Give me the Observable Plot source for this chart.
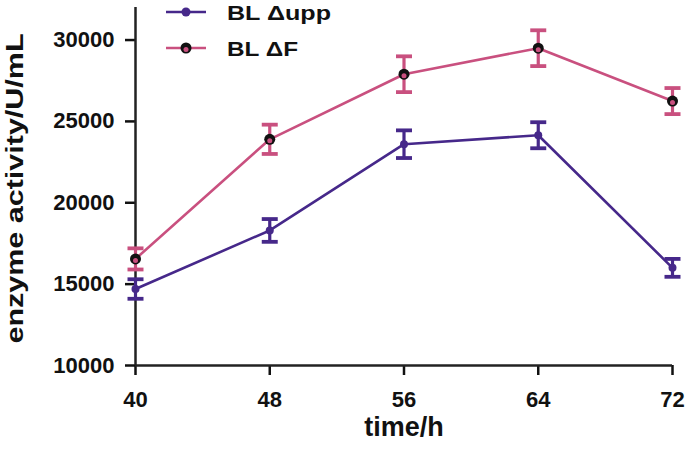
<!DOCTYPE html>
<html><head><meta charset="utf-8">
<script src="https://cdn.jsdelivr.net/npm/d3@7"></script>
<script src="https://cdn.jsdelivr.net/npm/@observablehq/plot@0.6"></script>
<style>
html,body{margin:0;padding:0;background:#fff;}
#wrap{position:relative;width:685px;height:449px;font-family:"Liberation Sans",Arial,sans-serif;}
#legend{position:absolute;left:0;top:0;}
</style></head>
<body><div id="wrap"><svg id="legend" width="400" height="70"></svg></div>
<script>
const times = [40, 48, 56, 64, 72];
const seriesNames = ["BL \u0394upp", "BL \u0394F"];
const seriesColors = ["#46288a", "#c9507f"];
const uppMean = [14700, 18300, 23600, 24150, 16000];
const uppErr  = [600, 700, 850, 800, 550];
const fMean   = [16550, 23900, 27900, 29500, 26250];
const fErr    = [650, 900, 1100, 1100, 800];
const yTicks = [10000, 15000, 20000, 25000, 30000];
const xDomain = [40, 72];
const yDomain = [10000, 32000];
const xTitle = "time/h";
const yTitle = "enzyme activity/U/mL";

const rows = [];
times.forEach((t, i) => {
  rows.push({t, v: uppMean[i], e: uppErr[i], s: seriesNames[0]});
  rows.push({t, v: fMean[i], e: fErr[i], s: seriesNames[1]});
});
const upp = rows.filter(d => d.s === seriesNames[0]);
const ff = rows.filter(d => d.s === seriesNames[1]);

const capSymbol = {draw(ctx, size) { ctx.moveTo(-8, 0); ctx.lineTo(8, 0); }};

function series(data, color) {
  return [
    Plot.line(data, {x: "t", y: "v", stroke: color, strokeWidth: 2.6}),
    Plot.ruleX(data, {x: "t", y1: d => d.v - d.e, y2: d => d.v + d.e, stroke: color, strokeWidth: 3.2}),
    Plot.dot(data, {x: "t", y: d => d.v - d.e, symbol: capSymbol, stroke: color, strokeWidth: 3.8, r: 5}),
    Plot.dot(data, {x: "t", y: d => d.v + d.e, symbol: capSymbol, stroke: color, strokeWidth: 3.8, r: 5})
  ];
}

const chart = Plot.plot({
  width: 685, height: 449,
  marginLeft: 135, marginRight: 13, marginTop: 7, marginBottom: 84,
  style: {fontFamily: "'Liberation Sans', Arial, sans-serif", fontWeight: "bold", color: "#111", background: "#fff"},
  x: {domain: xDomain},
  y: {domain: yDomain},
  marks: [
    Plot.axisX({ticks: times, tickSize: 10, tickPadding: 16, strokeWidth: 2.5, fontSize: 22, label: null, tickFormat: d => String(d)}),
    Plot.axisY({ticks: yTicks, tickSize: 10, tickPadding: 11, strokeWidth: 2.5, fontSize: 22, label: null, tickFormat: d => String(d)}),
    Plot.text([xTitle], {frameAnchor: "bottom", dy: 70, fontSize: 27, fontWeight: "bold", fill: "#111"}),
    Plot.text([yTitle], {frameAnchor: "left", textAnchor: "middle", dx: -120, dy: 2, rotate: -90, fontSize: 23, fontWeight: "bold", fill: "#111"}),
    Plot.ruleX([xDomain[0]], {stroke: "#222", strokeWidth: 2.5}),
    Plot.ruleY([yDomain[0]], {stroke: "#222", strokeWidth: 2.5}),
    ...series(upp, seriesColors[0]),
    ...series(ff, seriesColors[1]),
    Plot.dot(upp, {x: "t", y: "v", r: 4, fill: seriesColors[0]}),
    Plot.dot(ff, {x: "t", y: "v", r: 5.5, fill: "#111"}),
    Plot.dot(ff, {x: "t", y: "v", r: 2.5, dy: 1.5, fill: seriesColors[1]})
  ]
});
const wrap = document.getElementById("wrap");
wrap.insertBefore(chart, wrap.firstChild);
chart.querySelectorAll("text").forEach(t => {
  if (t.textContent === yTitle) { t.setAttribute("textLength", 310); t.setAttribute("lengthAdjust", "spacingAndGlyphs"); }
});

const legend = d3.select("#legend");
const legendY = [12, 48];
const legendTextW = [104, 71];
seriesNames.forEach((name, i) => {
  const g = legend.append("g").attr("transform", `translate(166,${legendY[i]})`);
  g.append("line").attr("x1", 0).attr("x2", 40).attr("stroke", seriesColors[i]).attr("stroke-width", 2.6);
  if (i === 1) {
    g.append("circle").attr("cx", 20).attr("r", 5.5).attr("fill", "#111");
    g.append("circle").attr("cx", 20).attr("cy", 1.5).attr("r", 2.5).attr("fill", seriesColors[1]);
  } else {
    g.append("circle").attr("cx", 20).attr("r", 4.5).attr("fill", seriesColors[0]);
  }
  g.append("text").attr("x", 61).attr("y", 7.5)
    .attr("font-family", "'Liberation Sans', Arial, sans-serif").attr("font-weight", "bold").attr("font-size", 20)
    .attr("fill", "#111").attr("textLength", legendTextW[i]).attr("lengthAdjust", "spacingAndGlyphs")
    .text(name);
});
</script></body></html>
